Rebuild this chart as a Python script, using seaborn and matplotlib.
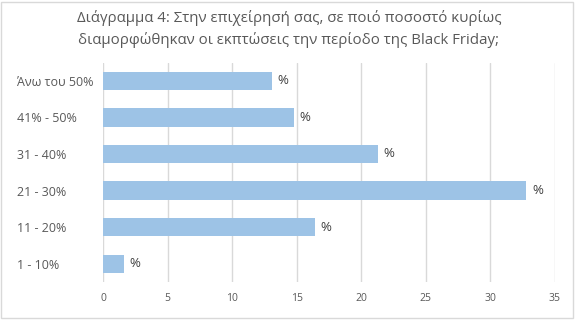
import matplotlib
matplotlib.use("Agg")
import matplotlib.pyplot as plt
import seaborn as sns
import pandas as pd
from matplotlib.patches import Rectangle

categories = ["Άνω του 50%", "41% - 50%", "31 - 40%", "21 - 30%", "11 - 20%", "1 - 10%"]
values = [13.1, 14.8, 21.3, 32.8, 16.4, 1.6]
xticks = [0, 5, 10, 15, 20, 25, 30, 35]
title = "Διάγραμμα 4: Στην επιχείρησή σας, σε ποιό ποσοστό κυρίως\nδιαμορφώθηκαν οι εκπτώσεις την περίοδο της Black Friday;"

sns.set_theme(style="white")
plt.rcParams['font.family'] = ['Open Sans', 'DejaVu Sans']

df = pd.DataFrame({"cat": categories, "val": values})

fig = plt.figure(figsize=(5.78, 3.23), dpi=100)
ax = fig.add_axes([103.2/578, 1-282/323, (554.7-103.2)/578, (282-62.5)/323])

sns.barplot(data=df, x="val", y="cat", color="#9DC3E6", width=0.5, ax=ax,
            saturation=1, edgecolor="none", zorder=3)
ax.set_xlim(0, 35)
ax.set_xticks(xticks)
ax.set_xticklabels([str(t) for t in xticks])
ax.grid(axis="x", color="#D9D9D9", linewidth=1, zorder=0)
ax.set_axisbelow(True)
for s in ax.spines.values():
    s.set_visible(False)
ax.set_xlabel("")
ax.set_ylabel("")
ax.tick_params(axis="x", colors="#595959", labelsize=7.5, length=0, pad=8)
ax.tick_params(axis="y", colors="#595959", labelsize=9, length=0, pad=(103.2 - 17) * 0.72)
for lab in ax.get_yticklabels():
    lab.set_horizontalalignment("left")

for i, v in enumerate(values):
    ax.annotate("%", xy=(v, i), xytext=(4, 0), textcoords="offset points",
                va="center", ha="left", fontsize=9.5, color="#404040")

fig.text(0.5, 0.910, title, ha="center", va="center", fontsize=10.8,
         color="#595959", linespacing=1.45)

fig.patches.append(Rectangle((1/578, 5/323), 572/578, 316/323, transform=fig.transFigure,
                             fill=False, edgecolor="#D9D9D9", linewidth=1))

fig.savefig("out.png", dpi=100)
